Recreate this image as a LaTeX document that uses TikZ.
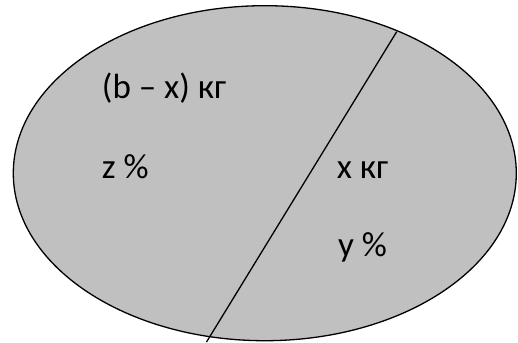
\documentclass[tikz,border=0pt]{standalone}
\usepackage{fontspec}
\setmainfont{Carlito}
\usepackage{xcolor}
\usepackage{tikz}
\usetikzlibrary{positioning}
\definecolor{silver}{HTML}{C0C0C0}

\begin{document}
\begin{tikzpicture}[x=1pt, y=-1pt, lbl/.style={anchor=base west, inner sep=0pt, font=\fontsize{35}{42}\selectfont}]
\useasboundingbox (0,0) rectangle (518,342);
\draw[fill=silver, line width=1.3pt] (264.8,173.2) ellipse [x radius=251.5pt, y radius=167.5pt];
\coordinate (cuttop) at (396.7,31.7);
\coordinate (cutbot) at (206.5,342);
\draw[line width=1.3pt] (cuttop)--(cutbot);

\node[lbl] (mass1) at (101.7,98.3) {(b – x) кг};
\node[lbl] (pct1) at (101.7,178) {z \%};
\node[lbl] (mass2) at (336.7,178) {x кг};
\node[lbl] (pct2) at (338,256.7) {y \%};
\end{tikzpicture}
\end{document}
